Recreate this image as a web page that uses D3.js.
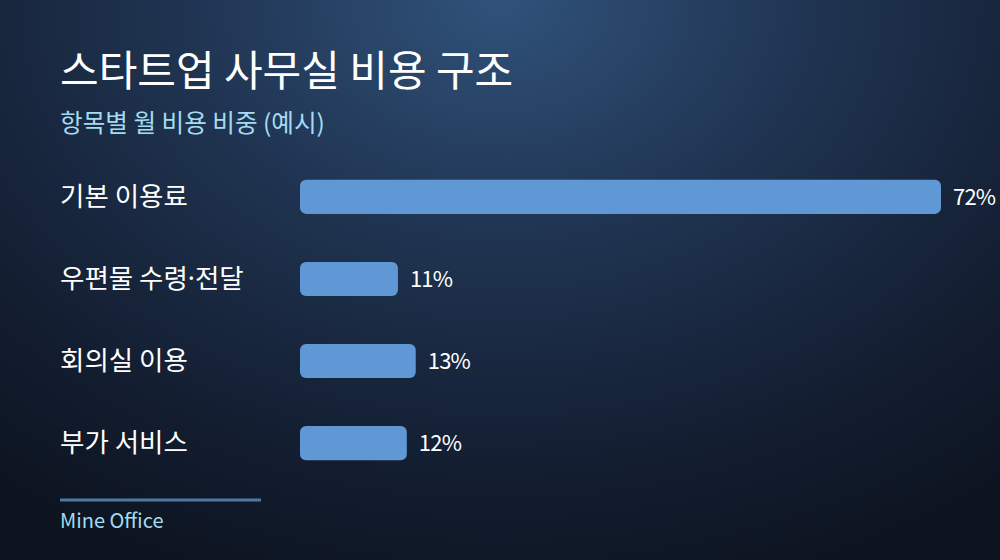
<!DOCTYPE html>
<html><head><meta charset="utf-8">
<script src="https://cdn.jsdelivr.net/npm/d3@7"></script>
<style>html,body{margin:0;padding:0;background:#0f1726;}svg{display:block;}</style>
</head><body>
<script>
const categories = ["기본 이용료", "우편물 수령·전달", "회의실 이용", "부가 서비스"];
const values = [72, 11, 13, 12];
const title = "스타트업 사무실 비용 구조";
const subtitle = "항목별 월 비용 비중 (예시)";
const source = "Mine Office";

const W = 1000, H = 560;
const font = "'Noto Sans CJK KR','Noto Sans',sans-serif";
const svg = d3.select("body").append("svg").attr("width", W).attr("height", H);
const defs = svg.append("defs");
const rg = defs.append("radialGradient").attr("id","bg")
  .attr("gradientUnits","userSpaceOnUse").attr("cx",0).attr("cy",0).attr("r",1)
  .attr("gradientTransform","translate(500,0) scale(820,620)");
rg.append("stop").attr("offset","0%").attr("stop-color","#30527a");
rg.append("stop").attr("offset","40%").attr("stop-color","#1f3350");
rg.append("stop").attr("offset","75%").attr("stop-color","#131e31");
rg.append("stop").attr("offset","100%").attr("stop-color","#0d1420");
svg.append("rect").attr("width",W).attr("height",H).attr("fill","url(#bg)");

svg.append("text").attr("x",60).attr("y",86).attr("fill","#ffffff")
  .attr("font-family",font).attr("font-size",42).attr("font-weight",400).text(title);
svg.append("text").attr("x",60).attr("y",132).attr("fill","#a3dcf0")
  .attr("font-family",font).attr("font-size",24.6).text(subtitle);

const x = d3.scaleLinear().domain([0, 72]).range([300, 941]);
const y = d3.scaleBand().domain(categories).range([156, 484]).paddingInner(0.585).paddingOuter(0.29);

const g = svg.append("g");
g.selectAll("rect.bar").data(categories).join("rect").attr("class","bar")
  .attr("x", x(0)).attr("y", d => y(d)).attr("height", y.bandwidth())
  .attr("width", (d,i) => x(values[i]) - x(0)).attr("rx",6).attr("fill","#5f98d4");

const cats = g.selectAll("text.cat").data(categories).join("text").attr("class","cat")
  .attr("x",60).attr("y", d => y(d) + y.bandwidth()/2).attr("dy","0.35em")
  .attr("fill","#ffffff").attr("font-family",font).attr("font-size",26.5);
cats.each(function(d){
  const t = d3.select(this);
  const parts = d.split("·");
  parts.forEach((p,i) => {
    if (i > 0) t.append("tspan").attr("font-family","'Noto Sans',sans-serif").text("·");
    t.append("tspan").text(p);
  });
});

g.selectAll("text.val").data(categories).join("text").attr("class","val")
  .attr("x",(d,i) => x(values[i]) + 12).attr("y", d => y(d) + y.bandwidth()/2).attr("dy","0.35em")
  .attr("fill","#ffffff").attr("font-family",font).attr("font-size",22).attr("letter-spacing",-0.8)
  .text((d,i) => values[i] + "%");

svg.append("line").attr("x1",60).attr("x2",261).attr("y1",500).attr("y2",500)
  .attr("stroke","#4d78a6").attr("stroke-width",3);
svg.append("text").attr("x",60).attr("y",528).attr("fill","#a3dcf0")
  .attr("font-family",font).attr("font-size",20).text(source);
</script>
</body></html>
